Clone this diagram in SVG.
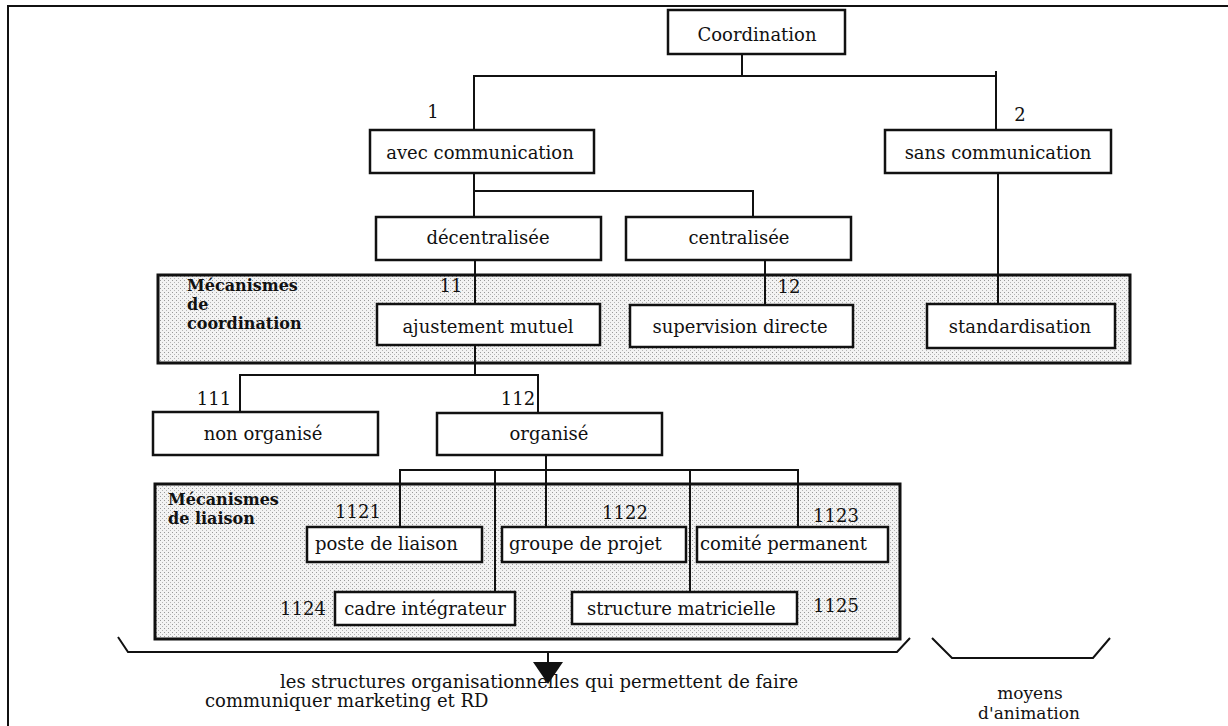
<svg xmlns="http://www.w3.org/2000/svg" width="1228" height="726" viewBox="0 0 1228 726">
<defs>
<pattern id="stip" width="4" height="4" patternUnits="userSpaceOnUse">
<rect width="4" height="4" fill="#f3f3f3"/>
<rect x="0" y="0" width="1" height="1" fill="#999"/>
<rect x="2" y="2" width="1" height="1" fill="#b5b5b5"/>
</pattern>
<style>
.box{fill:#fff;stroke:#111;stroke-width:2.5}
.cont{fill:url(#stip);stroke:#111;stroke-width:3}
.t{font-family:"DejaVu Serif",serif;font-size:18px;fill:#111}
.c{text-anchor:middle}
.b{font-weight:bold;font-size:16px}
.s{font-size:17px}
.ln{fill:none;stroke:#111;stroke-width:2}
</style>
</defs>
<rect width="1228" height="726" fill="#fff"/>
<g id="frame"><path class="ln" d="M8,726 V6 H1228"/></g>

<g id="mecanismes-coordination">
<rect class="cont" x="158" y="275" width="972" height="88"/>
<text class="t b" x="187" y="291">Mécanismes</text>
<text class="t b" x="187" y="310">de</text>
<text class="t b" x="187" y="329">coordination</text>
</g>
<g id="mecanismes-liaison">
<rect class="cont" x="155" y="484" width="745" height="155"/>
<text class="t b" x="168" y="505">Mécanismes</text>
<text class="t b" x="168" y="524">de liaison</text>
</g>

<g id="connectors">
<path class="ln" d="M742,54 V76"/>
<path class="ln" d="M474,130 V76 H996"/>
<path class="ln" d="M996,71 V130"/>
<path class="ln" d="M474,173 V217"/>
<path class="ln" d="M474,191 H753 V217"/>
<path class="ln" d="M475,260 V304"/>
<path class="ln" d="M765,260 V305"/>
<path class="ln" d="M998,173 V304"/>
<path class="ln" d="M475,345 V375"/>
<path class="ln" d="M240,412 V375 H538 V413"/>
<path class="ln" d="M546,455 V470"/>
<path class="ln" d="M400,527 V470 H798 V527"/>
<path class="ln" d="M495,470 V592"/>
<path class="ln" d="M546,470 V527"/>
<path class="ln" d="M690,470 V592"/>
<path class="ln" d="M118,637 L128,652 H897 L910,638"/>
<path class="ln" d="M548,652 V663"/>
<polygon points="533,662 563,662 548,684" fill="#111"/>
<path class="ln" d="M932,638 L952,658 H1093 L1110,638"/>
</g>

<g id="coordination"><rect class="box" x="668" y="10" width="177" height="44"/><text class="t c" x="757" y="41">Coordination</text></g>
<g id="avec-communication"><rect class="box" x="370" y="130" width="224" height="43"/><text class="t c" x="480" y="159">avec communication</text><text class="t c" x="433" y="118">1</text></g>
<g id="sans-communication"><rect class="box" x="885" y="130" width="226" height="43"/><text class="t c" x="998" y="159">sans communication</text><text class="t c" x="1020" y="121">2</text></g>
<g id="decentralisee"><rect class="box" x="376" y="217" width="225" height="43"/><text class="t c" x="488" y="244">décentralisée</text></g>
<g id="centralisee"><rect class="box" x="626" y="217" width="225" height="43"/><text class="t c" x="739" y="244">centralisée</text></g>
<g id="ajustement-mutuel"><rect class="box" x="377" y="304" width="223" height="41"/><text class="t c" x="488" y="333">ajustement mutuel</text><text class="t c" x="451" y="292">11</text></g>
<g id="supervision-directe"><rect class="box" x="630" y="305" width="223" height="42"/><text class="t c" x="740" y="333">supervision directe</text><text class="t c" x="789" y="293">12</text></g>
<g id="standardisation"><rect class="box" x="927" y="304" width="188" height="44"/><text class="t c" x="1020" y="333">standardisation</text></g>
<g id="non-organise"><rect class="box" x="153" y="412" width="225" height="43"/><text class="t c" x="263" y="440">non organisé</text><text class="t c" x="214" y="405">111</text></g>
<g id="organise"><rect class="box" x="437" y="413" width="225" height="42"/><text class="t c" x="549" y="440">organisé</text><text class="t c" x="518" y="405">112</text></g>
<g id="poste-de-liaison"><rect class="box" x="307" y="527" width="175" height="35"/><text class="t" x="315" y="550">poste de liaison</text><text class="t c" x="358" y="518">1121</text></g>
<g id="groupe-de-projet"><rect class="box" x="502" y="527" width="184" height="35"/><text class="t" x="509" y="550">groupe de projet</text><text class="t c" x="625" y="519">1122</text></g>
<g id="comite-permanent"><rect class="box" x="697" y="527" width="191" height="35"/><text class="t" x="700" y="550">comité permanent</text><text class="t c" x="836" y="522">1123</text></g>
<g id="cadre-integrateur"><rect class="box" x="335" y="592" width="180" height="33"/><text class="t c" x="425" y="615">cadre intégrateur</text><text class="t c" x="303" y="615">1124</text></g>
<g id="structure-matricielle"><rect class="box" x="572" y="592" width="225" height="32"/><text class="t" x="587" y="615">structure matricielle</text><text class="t c" x="836" y="612">1125</text></g>

<g id="legend-structures">
<text class="t" x="280" y="688">les structures organisationnelles qui permettent de faire</text>
<text class="t" x="205" y="707">communiquer marketing et RD</text>
</g>
<g id="legend-moyens">
<text class="t c s" x="1030" y="699">moyens</text>
<text class="t c s" x="1029" y="719">d'animation</text>
</g>
</svg>
